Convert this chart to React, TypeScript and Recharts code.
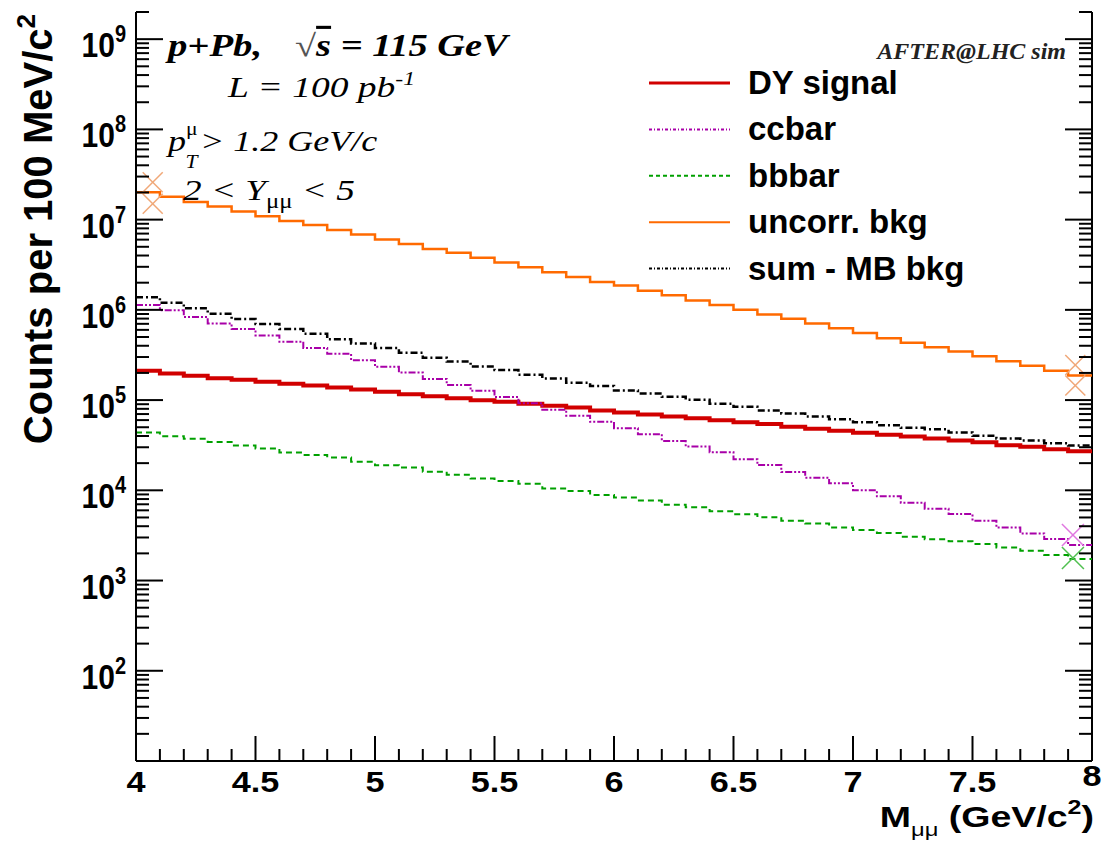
import React from 'react';
import { ComposedChart, Line, Scatter, XAxis, YAxis, ReferenceLine } from 'recharts';

// dimuon mass bin edges, 100 MeV/c^2 wide (last entry closes the final bin)
const massEdges = [
  4.0, 4.1, 4.2, 4.3, 4.4, 4.5, 4.6, 4.7, 4.8, 4.9,
  5.0, 5.1, 5.2, 5.3, 5.4, 5.5, 5.6, 5.7, 5.8, 5.9,
  6.0, 6.1, 6.2, 6.3, 6.4, 6.5, 6.6, 6.7, 6.8, 6.9,
  7.0, 7.1, 7.2, 7.3, 7.4, 7.5, 7.6, 7.7, 7.8, 7.9, 8.0,
];

// counts per bin
const dySignal = [
  2.11e5, 1.97e5, 1.86e5, 1.75e5, 1.68e5, 1.60e5, 1.52e5, 1.45e5, 1.38e5, 1.31e5,
  1.24e5, 1.16e5, 1.10e5, 1.05e5, 9.98e4, 9.57e4, 9.10e4, 8.65e4, 8.28e4, 7.67e4,
  7.28e4, 6.92e4, 6.58e4, 6.30e4, 5.98e4, 5.69e4, 5.43e4, 5.06e4, 4.80e4, 4.56e4,
  4.34e4, 4.12e4, 3.95e4, 3.75e4, 3.56e4, 3.41e4, 3.16e4, 3.03e4, 2.85e4, 2.71e4,
];
const ccbar = [
  1.13e6, 9.87e5, 8.32e5, 7.08e5, 6.12e5, 5.21e5, 4.44e5, 3.77e5, 3.27e5, 2.77e5,
  2.34e5, 2.02e5, 1.71e5, 1.47e5, 1.27e5, 1.08e5, 9.24e4, 7.80e4, 6.70e4, 5.74e4,
  4.88e4, 4.19e4, 3.53e4, 3.05e4, 2.64e4, 2.21e4, 1.91e4, 1.60e4, 1.38e4, 1.20e4,
  1.00e4, 8.57e3, 7.30e3, 6.26e3, 5.47e3, 4.61e3, 3.88e3, 3.33e3, 2.89e3, 2.48e3,
];
const bbbar = [
  4.37e4, 3.97e4, 3.72e4, 3.44e4, 3.13e4, 2.90e4, 2.62e4, 2.47e4, 2.31e4, 2.07e4,
  1.89e4, 1.79e4, 1.61e4, 1.49e4, 1.35e4, 1.27e4, 1.18e4, 1.05e4, 9.84e3, 8.89e3,
  8.30e3, 7.69e3, 6.93e3, 6.47e3, 5.85e3, 5.42e3, 5.04e3, 4.61e3, 4.30e3, 3.88e3,
  3.63e3, 3.37e3, 3.06e3, 2.86e3, 2.72e3, 2.54e3, 2.33e3, 2.14e3, 1.92e3, 1.73e3,
];
const uncorrBkg = [
  2.01e7, 1.79e7, 1.57e7, 1.40e7, 1.23e7, 1.09e7, 9.68e6, 8.73e6, 7.69e6, 6.84e6,
  6.01e6, 5.37e6, 4.73e6, 4.29e6, 3.79e6, 3.34e6, 2.96e6, 2.61e6, 2.31e6, 2.04e6,
  1.86e6, 1.63e6, 1.45e6, 1.27e6, 1.13e6, 1.00e6, 8.87e5, 7.98e5, 7.08e5, 6.24e5,
  5.53e5, 4.86e5, 4.33e5, 3.84e5, 3.46e5, 3.07e5, 2.70e5, 2.40e5, 2.11e5, 1.87e5,
];
const sumNoMB = [
  1.38e6, 1.20e6, 1.04e6, 9.08e5, 7.91e5, 6.95e5, 6.12e5, 5.44e5, 4.71e5, 4.25e5,
  3.77e5, 3.35e5, 2.94e5, 2.67e5, 2.36e5, 2.15e5, 1.91e5, 1.74e5, 1.56e5, 1.43e5,
  1.28e5, 1.18e5, 1.09e5, 1.01e5, 9.10e4, 8.43e4, 7.67e4, 7.10e4, 6.58e4, 6.14e4,
  5.69e4, 5.26e4, 4.93e4, 4.75e4, 4.37e4, 4.02e4, 3.75e4, 3.56e4, 3.33e4, 3.13e4,
];

// stray markers left at the histogram edges
const uncorrMarks = [
  { m: 4.07, v: 2.6e7 },
  { m: 4.07, v: 1.5e7 },
  { m: 7.93, v: 2.45e5 },
  { m: 7.93, v: 1.45e5 },
];
const ccbarMarks = [{ m: 7.92, v: 3.2e3 }];
const bbbarMarks = [{ m: 7.92, v: 1.78e3 }];

const xMajor = [4, 4.5, 5, 5.5, 6, 6.5, 7, 7.5, 8];
const yDecades = [1, 2, 3, 4, 5, 6, 7, 8, 9];
const Y_MIN = 10;
const Y_MAX = 2e9;

const SANS = '"Liberation Sans", Arial, Helvetica, sans-serif';
const SERIF = '"Liberation Serif", "Times New Roman", serif';

const PLOT_RIGHT = 1092;

const series = [
  { key: 'dy', name: 'DY signal', color: '#d10000', width: 4, dash: undefined, legendDash: undefined },
  { key: 'cc', name: 'ccbar', color: '#a800a8', width: 2, dash: '7 2 2 2 2 2', legendDash: '3 2 1 2' },
  { key: 'bb', name: 'bbbar', color: '#00a000', width: 2, dash: '6 4', legendDash: '4 3' },
  { key: 'un', name: 'uncorr. bkg', color: '#ff6a00', width: 2.5, dash: undefined, legendDash: undefined },
  { key: 'sum', name: 'sum - MB bkg', color: '#000000', width: 2.5, dash: '7 3 2 3', legendDash: '3 2 1 2' },
];

// step rows: one per bin low edge, plus the closing edge repeating the last bin
const rows = massEdges.map((m, i) => {
  const j = Math.min(i, dySignal.length - 1);
  return { m, dy: dySignal[j], cc: ccbar[j], bb: bbbar[j], un: uncorrBkg[j], sum: sumNoMB[j] };
});

const yTicks: number[] = [20, 30, 40, 50, 60, 70, 80, 90];
yDecades.forEach((e) => {
  for (let k = 1; k <= 9; k++) {
    const v = k * Math.pow(10, e);
    if (v > 90 && v <= Y_MAX) yTicks.push(v);
  }
});

const YTick = (props: any) => {
  const { x, y, payload } = props;
  const v = payload.value;
  const exp = Math.round(Math.log10(v));
  const major = Math.abs(v - Math.pow(10, exp)) < 1e-6 * v;
  const len = major ? 27 : 13;
  return (
    <g>
      <line x1={x} x2={x + len} y1={y} y2={y} stroke="#000" strokeWidth={2} />
      <line x1={PLOT_RIGHT} x2={PLOT_RIGHT - len} y1={y} y2={y} stroke="#000" strokeWidth={2} />
      {major && (
        <text
          transform={`translate(${x - 10} ${y + 18}) scale(1 1.15)`}
          textAnchor="end"
          fontFamily={SANS}
          fontWeight="bold"
          fontSize={30}
          fill="#000"
        >
          10
          <tspan dy={-13} fontSize={20}>{exp}</tspan>
        </text>
      )}
    </g>
  );
};

const XTick = (props: any) => {
  const { x, y, payload } = props;
  const v = payload.value;
  const major = xMajor.some((t) => Math.abs(t - v) < 1e-6);
  const len = major ? 25 : 12;
  const last = Math.abs(v - 8) < 1e-6;
  return (
    <g>
      <line x1={x} x2={x} y1={y} y2={y - len} stroke="#000" strokeWidth={2} />
      {major && (
        <text
          transform={`translate(${x} ${y + (last ? 25 : 31)}) scale(1.18 1)`}
          textAnchor="middle"
          fontFamily={SANS}
          fontWeight="bold"
          fontSize={29}
          fill="#000"
        >
          {String(v)}
        </text>
      )}
    </g>
  );
};

const makeCross = (color: string, r: number) => (props: any) => {
  const { cx, cy } = props;
  if (cx == null || cy == null) return null;
  return (
    <g stroke={color} strokeWidth={1.5}>
      <line x1={cx - r} y1={cy - r} x2={cx + r} y2={cy + r} />
      <line x1={cx - r} y1={cy + r} x2={cx + r} y2={cy - r} />
    </g>
  );
};

export default function App() {
  return (
    <div style={{ position: 'absolute', left: 0, top: 0, width: 1102, height: 841, background: '#fff' }}>
      <ComposedChart
        width={1102}
        height={841}
        data={rows}
        margin={{ top: 12, right: 10, bottom: 0, left: 0 }}
      >
        <XAxis
          dataKey="m"
          type="number"
          domain={[4, 8]}
          ticks={massEdges}
          interval={0}
          height={80}
          tickSize={0}
          tickMargin={0}
          tickLine={false}
          axisLine={{ stroke: '#000', strokeWidth: 2 }}
          tick={<XTick />}
          allowDataOverflow
        />
        <YAxis
          type="number"
          scale="log"
          domain={[Y_MIN, Y_MAX]}
          ticks={yTicks}
          interval={0}
          width={136}
          tickSize={0}
          tickMargin={0}
          tickLine={false}
          axisLine={{ stroke: '#000', strokeWidth: 2 }}
          tick={<YTick />}
          allowDataOverflow
        />
        <ReferenceLine x={8} stroke="#000" strokeWidth={2} />
        {series.map((s) => (
          <Line
            key={s.key}
            dataKey={s.key}
            type="stepAfter"
            stroke={s.color}
            strokeWidth={s.width}
            strokeDasharray={s.dash}
            dot={false}
            activeDot={false}
            isAnimationActive={false}
          />
        ))}
        <Scatter data={uncorrMarks} dataKey="v" shape={makeCross('#f0a878', 10)} isAnimationActive={false} />
        <Scatter data={ccbarMarks} dataKey="v" shape={makeCross('#e078e0', 11)} isAnimationActive={false} />
        <Scatter data={bbbarMarks} dataKey="v" shape={makeCross('#50c050', 11)} isAnimationActive={false} />
      </ComposedChart>

      <svg
        width={1102}
        height={841}
        style={{ position: 'absolute', left: 0, top: 0, pointerEvents: 'none' }}
      >
        {/* axis titles */}
        <text
          transform="translate(52 14) rotate(-90)"
          textAnchor="end"
          fontFamily={SANS}
          fontWeight="bold"
          fontSize={40}
        >
          Counts per 100 MeV/c<tspan dy={-17} fontSize={26}>2</tspan>
        </text>
        <text
          transform="translate(1094 827) scale(1.25 1)"
          textAnchor="end"
          fontFamily={SANS}
          fontWeight="bold"
          fontSize={30}
        >
          M
          <tspan dy={9} fontSize={19} fontWeight="normal">μμ</tspan>
          <tspan dy={-9}> (GeV/c</tspan>
          <tspan dy={-13} fontSize={20}>2</tspan>
          <tspan dy={13}>)</tspan>
        </text>

        {/* collision / cut annotations */}
        <g fontFamily={SERIF} fill="#000">
          <text transform="translate(168 56) scale(1.25 1)" fontStyle="italic" fontWeight="bold" fontSize={31}>
            p+Pb,
          </text>
          <text transform="translate(295 56) scale(1.24 1)" fontSize={31}>
            <tspan fill="#555">√</tspan>
            <tspan fontStyle="italic" fontWeight="bold" style={{ textDecoration: 'overline' }}>s</tspan>
            <tspan fontStyle="italic" fontWeight="bold"> = 115 GeV</tspan>
          </text>
          <text transform="translate(228 97) scale(1.25 1)" fontStyle="italic" fontSize={30}>
            L = 100 pb<tspan dy={-12} fontSize={19}>-1</tspan>
          </text>
          {/* p_T^mu: superscript and subscript stacked after the p */}
          <text transform="translate(168 151) scale(1.2 1)" fontStyle="italic" fontSize={30}>
            p
            <tspan dy={-16} fontSize={18} fontStyle="normal">μ</tspan>
            <tspan dx={-10} dy={33} fontSize={18}>T</tspan>
            <tspan dx={2} dy={-17}>&gt; 1.2 GeV/c</tspan>
          </text>
          <text transform="translate(183 200) scale(1.24 1)" fontStyle="italic" fontSize={30}>
            2 &lt; Y<tspan dy={8} fontSize={20} fontStyle="normal">μμ</tspan>
            <tspan dy={-8}> &lt; 5</tspan>
          </text>
          <text
            x={1066}
            y={59}
            textAnchor="end"
            fontStyle="italic"
            fontWeight="bold"
            fontSize={24}
            fill="#222"
          >
            AFTER@LHC sim
          </text>
        </g>

        {/* legend */}
        <g>
          {series.map((s, i) => {
            const y = 83 + i * 46.4;
            return (
              <g key={s.key}>
                <line
                  x1={649}
                  x2={730}
                  y1={y}
                  y2={y}
                  stroke={s.color}
                  strokeWidth={s.key === 'dy' ? 3 : 2}
                  strokeDasharray={s.legendDash}
                />
                <text x={748} y={y + 11} fontFamily={SANS} fontWeight="bold" fontSize={33} fill="#000">
                  {s.name}
                </text>
              </g>
            );
          })}
        </g>
      </svg>
    </div>
  );
}
